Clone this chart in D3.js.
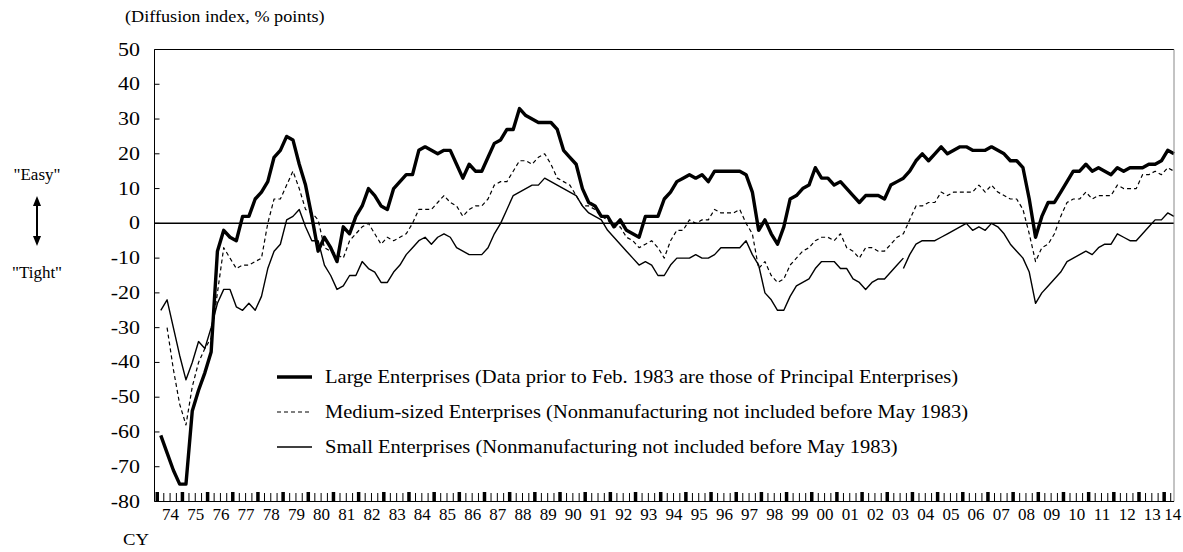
<!DOCTYPE html>
<html>
<head>
<meta charset="utf-8">
<script src="https://cdn.jsdelivr.net/npm/d3@7"></script>
<style>
  body { margin: 0; background: #fff; }
  svg { display: block; font-family: "Liberation Serif", "Times New Roman", serif; }
</style>
</head>
<body>
<svg id="chart" width="1183" height="552"></svg>
<script>
// quarterly DI, quarter index 0 = 1974 Q1
const yearLabels = ["74","75","76","77","78","79","80","81","82","83","84","85","86","87","88","89","90",
  "91","92","93","94","95","96","97","98","99","00","01","02","03","04","05","06","07","08","09","10",
  "11","12","13","14"];

// Large enterprises, from 1974 Q2
const large = [
  -61, -66, -71, -75, -75, -54, -48, -43, -37, -8,
  -2, -4, -5, 2, 2, 7, 9, 12, 19, 21,
  25, 24, 17, 11, 2, -8, -4, -7, -11, -1,
  -3, 2, 5, 10, 8, 5, 4, 10, 12, 14,
  14, 21, 22, 21, 20, 21, 21, 17, 13, 17,
  15, 15, 19, 23, 24, 27, 27, 33, 31, 30,
  29, 29, 29, 27, 21, 19, 17, 10, 6, 5,
  2, 2, -1, 1, -2, -3, -4, 2, 2, 2,
  7, 9, 12, 13, 14, 13, 14, 12, 15, 15,
  15, 15, 15, 14, 9, -2, 1, -3, -6, -1,
  7, 8, 10, 11, 16, 13, 13, 11, 12, 10,
  8, 6, 8, 8, 8, 7, 11, 12, 13, 15,
  18, 20, 18, 20, 22, 20, 21, 22, 22, 21,
  21, 21, 22, 21, 20, 18, 18, 16, 7, -4,
  2, 6, 6, 9, 12, 15, 15, 17, 15, 16,
  15, 14, 16, 15, 16, 16, 16, 17, 17, 18,
  21, 20
];

// Medium-sized enterprises, from 1974 Q3
const medium = [
  -30, -42, -52, -58, -47, -40, -36, -33, -20,
  -7, -10, -13, -12, -12, -11, -10, 0, 7, 7,
  11, 15, 10, 4, 3, 1, -7, -8, -9, -10,
  -5, -3, -1, 0, -3, -6, -4, -5, -4, -3,
  0, 4, 4, 4, 6, 8, 6, 5, 2, 4,
  5, 5, 7, 11, 12, 12, 15, 18, 18, 17,
  19, 20, 17, 13, 12, 11, 8, 5, 5, 4,
  2, 1, -1, -1, -4, -5, -7, -6, -5, -7,
  -10, -5, -2, -2, 1, 0, 1, 1, 4, 3,
  3, 3, 4, 0, -3, -13, -11, -15, -17, -16,
  -12, -10, -8, -7, -5, -4, -4, -5, -3, -7,
  -8, -10, -7, -7, -8, -8, -6, -4, -3, 1,
  5, 5, 6, 6, 9, 8, 9, 9, 9, 9,
  11, 9, 11, 9, 8, 7, 7, 4, -3, -11,
  -7, -6, -3, 2, 6, 7, 7, 9, 7, 8,
  8, 8, 11, 10, 10, 10, 14, 14, 15, 14,
  16, 15
];

// Small enterprises, old basis 1974 Q2 - 2003 Q4
const smallOld = [
  -25, -22, -30, -38, -45, -40, -34, -36, -30, -23,
  -19, -19, -24, -25, -23, -25, -21, -13, -8, -6,
  1, 2, 4, -1, -5, -5, -12, -15, -19, -18,
  -15, -15, -11, -13, -14, -17, -17, -14, -12, -9,
  -7, -5, -4, -6, -4, -3, -4, -7, -8, -9,
  -9, -9, -7, -3, 0, 4, 8, 9, 10, 11,
  11, 13, 12, 11, 10, 9, 8, 5, 3, 2,
  1, -2, -4, -6, -8, -10, -12, -11, -12, -15,
  -15, -12, -10, -10, -10, -9, -10, -10, -9, -7,
  -7, -7, -7, -5, -9, -12, -20, -22, -25, -25,
  -21, -18, -17, -16, -13, -11, -11, -11, -13, -13,
  -16, -17, -19, -17, -16, -16, -14, -12, -10
];

// Small enterprises, new basis 2003 Q4 - 2014 Q3
const smallNew = [
  -13, -9, -6, -5, -5, -5, -4, -3, -2, -1,
  0, -2, -1, -2, 0, -1, -3, -6, -8, -10,
  -14, -23, -20, -18, -16, -14, -11, -10, -9, -8,
  -9, -7, -6, -6, -3, -4, -5, -5, -3, -1,
  1, 1, 3, 2
];

const legendLabels = [
  "Large Enterprises (Data prior to Feb. 1983 are those of Principal Enterprises)",
  "Medium-sized Enterprises (Nonmanufacturing not included before May 1983)",
  "Small Enterprises (Nonmanufacturing not included before May 1983)"
];

const yTicks = d3.range(-80, 51, 10);

const plotL = 154.5, plotR = 1174, plotT = 49.5, plotB = 501.5;
const svg = d3.select("#chart");

const x = d3.scaleLinear().domain([0, 162]).range([plotL, plotR]);
const y = d3.scaleLinear().domain([-80, 50]).range([plotB, plotT]);

const toPoints = (vals, q0) => vals.map((v, i) => ({ q: q0 + i, v }));

const series = [
  { pts: toPoints(large, 1), width: 3.4, dash: null },
  { pts: toPoints(medium, 2), width: 1.2, dash: "4,3" },
  { pts: toPoints(smallOld, 1), width: 1.4, dash: null },
  { pts: toPoints(smallNew, 119), width: 1.4, dash: null }
];

// text in the source picture is a little wider than the font: stretch it sideways
function label(g, px, py, str, size, sx, anchor) {
  return g.append("text")
    .attr("transform", `translate(${px},${py}) scale(${sx},1)`)
    .attr("font-size", size)
    .attr("text-anchor", anchor || "start")
    .text(str);
}

// unit
label(svg, 125, 22, "(Diffusion index, % points)", 17, 1.07);

// y axis labels + inward ticks
yTicks.forEach(t => label(svg, 140, y(t) + 6, t, 18, 1.22, "end"));
svg.append("g").selectAll("line").data(yTicks).join("line")
  .attr("x1", plotL).attr("x2", plotL + 5)
  .attr("y1", d => y(d)).attr("y2", d => y(d))
  .attr("stroke", "#000");

// zero line
svg.append("line")
  .attr("x1", plotL).attr("x2", plotR).attr("y1", y(0)).attr("y2", y(0))
  .attr("stroke", "#000").attr("stroke-width", 1.5);

// quarter ticks on the x axis: a block at each year start, thin marks otherwise
const quarters = d3.range(0, 162);
const tg = svg.append("g");
tg.selectAll("rect").data(quarters.filter(k => k % 4 === 0)).join("rect")
  .attr("x", k => x(k) + 1).attr("y", plotB - 9.5).attr("width", 3.5).attr("height", 9.5)
  .attr("fill", "#000");
tg.selectAll("line").data(quarters.filter(k => k % 4 !== 0)).join("line")
  .attr("x1", k => x(k) + 3).attr("x2", k => x(k) + 3)
  .attr("y1", plotB - 8.5).attr("y2", plotB)
  .attr("stroke", "#000");

yearLabels.forEach((d, i) =>
  label(svg, x(Math.min(i * 4 + 2, 161)) + (i === yearLabels.length - 1 ? 5 : 3.5), 520, d, 17, 1.0, "middle"));

label(svg, 123, 545, "CY", 17, 1.1);

// series lines
const line = d3.line().x(d => x(d.q)).y(d => y(d.v));
svg.append("g").selectAll("path").data(series).join("path")
  .attr("d", s => line(s.pts))
  .attr("fill", "none").attr("stroke", "#000")
  .attr("stroke-width", s => s.width)
  .attr("stroke-dasharray", s => s.dash)
  .attr("stroke-linejoin", "round");

// frame
svg.append("line").attr("x1", plotL).attr("x2", plotR).attr("y1", plotT).attr("y2", plotT).attr("stroke", "#000");
svg.append("line").attr("x1", plotR).attr("x2", plotR).attr("y1", plotT).attr("y2", plotB).attr("stroke", "#888");
svg.append("line").attr("x1", plotL).attr("x2", plotL).attr("y1", plotT).attr("y2", plotB).attr("stroke", "#000");
svg.append("line").attr("x1", plotL).attr("x2", plotR).attr("y1", plotB).attr("y2", plotB).attr("stroke", "#000");

// legend
const lg = svg.append("g");
legendLabels.forEach((txt, i) => {
  const s = series[i];
  const ly = 377 + i * 35;
  lg.append("line").attr("x1", 277).attr("x2", 312).attr("y1", ly).attr("y2", ly)
    .attr("stroke", "#000").attr("stroke-width", s.width).attr("stroke-dasharray", s.dash);
  label(lg, 325, ly + 6, txt, 18, 1.14);
});

// "Easy" / "Tight" note with double arrow
label(svg, 37, 180, '"Easy"', 17, 1.0, "middle");
label(svg, 37, 278, '"Tight"', 17, 1.0, "middle");
svg.append("line").attr("x1", 37).attr("x2", 37).attr("y1", 204).attr("y2", 238).attr("stroke", "#000").attr("stroke-width", 2);
svg.append("path").attr("d", "M37,196 L33,206 L41,206 Z").attr("fill", "#000");
svg.append("path").attr("d", "M37,246 L33,236 L41,236 Z").attr("fill", "#000");
</script>
</body>
</html>
